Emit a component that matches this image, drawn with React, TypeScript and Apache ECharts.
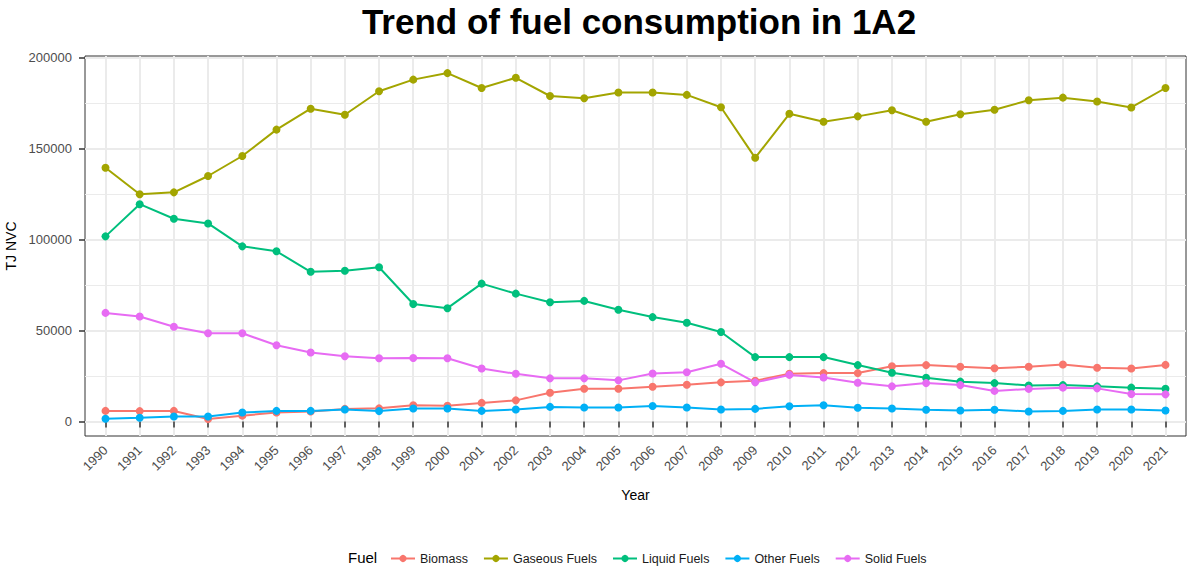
import React, { useEffect, useRef } from "react";
import * as echarts from "echarts";

const years = [1990, 1991, 1992, 1993, 1994, 1995, 1996, 1997, 1998, 1999, 2000, 2001, 2002, 2003, 2004, 2005, 2006, 2007, 2008, 2009, 2010, 2011, 2012, 2013, 2014, 2015, 2016, 2017, 2018, 2019, 2020, 2021];

const biomass = [5800, 5700, 5800, 1300, 3200, 4900, 5500, 6900, 7200, 8900, 8600, 10200, 11600, 15800, 18000, 18000, 19100, 20200, 21500, 22400, 26200, 26600, 26600, 30400, 31000, 30100, 29300, 30100, 31300, 29500, 29100, 31100];
const gaseousFuels = [139500, 125000, 126000, 135000, 146000, 160500, 172000, 168700, 181600, 188000, 191600, 183400, 189000, 179000, 177800, 180900, 180900, 179600, 172800, 145000, 169200, 164800, 167800, 171200, 164800, 169000, 171400, 176700, 178100, 176000, 172700, 183400];
const liquidFuels = [101800, 119500, 111500, 108900, 96300, 93600, 82300, 82900, 84800, 64600, 62300, 75800, 70300, 65600, 66300, 61400, 57400, 54300, 49200, 35400, 35400, 35400, 31000, 26800, 24000, 21900, 21100, 19800, 20000, 19300, 18600, 18000];
const otherFuels = [1500, 2000, 2700, 2700, 4900, 5800, 5800, 6600, 5700, 7100, 7100, 5800, 6600, 8000, 7700, 7700, 8500, 7700, 6600, 6900, 8400, 8900, 7500, 7100, 6400, 6000, 6400, 5500, 5800, 6600, 6600, 6000];
const solidFuels = [59700, 57700, 52100, 48500, 48500, 41900, 37900, 35900, 34800, 34900, 34800, 29100, 26200, 23700, 23700, 22600, 26400, 27100, 31700, 21500, 25600, 24200, 21300, 19300, 21100, 20000, 16800, 17900, 18600, 18200, 15100, 14900];

const seriesNames = ["Biomass", "Gaseous Fuels", "Liquid Fuels", "Other Fuels", "Solid Fuels"];
const seriesValues = [biomass, gaseousFuels, liquidFuels, otherFuels, solidFuels];
const seriesColors = ["#F8766D", "#A3A500", "#00BF7D", "#00B0F6", "#E76BF3"];

const yMajorTicks = [0, 50000, 100000, 150000, 200000];
const yMinorTicks = [25000, 75000, 125000, 175000];

const FONT = "'Liberation Sans', Arial, sans-serif";

export default function App() {
  const ref = useRef<HTMLDivElement>(null);

  useEffect(() => {
    if (!ref.current) return;
    const chart = echarts.init(ref.current, null, { renderer: "svg" });
    const option: any = {
      animation: false,
      backgroundColor: "#ffffff",
      textStyle: { fontFamily: FONT },
      title: {
        text: "Trend of fuel consumption in 1A2",
        left: 634,
        textAlign: "center",
        top: -1,
        textStyle: { fontFamily: FONT, fontSize: 35, fontWeight: "bold", color: "#000000" },
      },
      graphic: [
        {
          type: "text",
          left: 348,
          top: 550,
          style: { text: "Fuel", fontFamily: FONT, fontSize: 15, fill: "#000000" },
        },
      ],
      legend: {
        left: 385,
        top: 547,
        itemWidth: 24,
        itemHeight: 9,
        itemGap: 15,
        data: seriesNames,
        textStyle: { fontFamily: FONT, fontSize: 12.5, color: "#1a1a1a" },
      },
      grid: {
        left: 85,
        right: 6,
        top: 56,
        bottom: 134,
        show: true,
        borderColor: "#333333",
        borderWidth: 1,
        backgroundColor: "#ffffff",
        containLabel: false,
        outerBoundsMode: "none",
      },
      xAxis: {
        type: "value",
        min: 1989.4,
        max: 2021.6,
        name: "Year",
        nameLocation: "middle",
        nameGap: 52,
        nameTextStyle: { fontFamily: FONT, fontSize: 14, color: "#000000" },
        axisLine: { show: false },
        axisTick: { show: true, length: 6, customValues: years, lineStyle: { color: "#333333", width: 1.5 } },
        axisLabel: {
          customValues: years,
          rotate: 45,
          fontFamily: FONT,
          fontSize: 13,
          color: "#4d4d4d",
          margin: 12,
          formatter: (v: number) => String(v),
        },
        splitLine: { show: true, lineStyle: { color: "#ebebeb", width: 2 } },
      },
      yAxis: [
        {
          type: "value",
          min: -8000,
          max: 201000,
          name: "TJ NVC",
          nameLocation: "middle",
          nameGap: 66,
          nameTextStyle: { fontFamily: FONT, fontSize: 14, color: "#000000" },
          axisLine: { show: false },
          axisTick: { show: true, length: 6, customValues: yMajorTicks, lineStyle: { color: "#333333", width: 1.5 } },
          axisLabel: {
            customValues: yMajorTicks,
            fontFamily: FONT,
            fontSize: 13,
            color: "#4d4d4d",
            margin: 13,
            formatter: (v: number) => String(v),
          },
          splitLine: { show: true, lineStyle: { color: "#ebebeb", width: 2 } },
        },
        {
          type: "value",
          min: -8000,
          max: 201000,
          position: "left",
          offset: 0,
          axisLine: { show: false },
          axisTick: { show: false, customValues: yMinorTicks },
          axisLabel: { show: false, customValues: yMinorTicks },
          splitLine: { show: true, lineStyle: { color: "#ebebeb", width: 1 } },
        },
      ],
      series: seriesNames.map((name, i) => ({
        name,
        type: "line",
        yAxisIndex: 0,
        data: years.map((y, j) => [y, seriesValues[i][j]]),
        symbol: "circle",
        symbolSize: 8,
        showSymbol: true,
        itemStyle: { color: seriesColors[i] },
        lineStyle: { color: seriesColors[i], width: 2 },
        z: 3,
      })),
    };
    chart.setOption(option);
    return () => chart.dispose();
  }, []);

  return (
    <div
      ref={ref}
      style={{ position: "fixed", left: 0, top: 0, width: 1192, height: 570 }}
    />
  );
}
